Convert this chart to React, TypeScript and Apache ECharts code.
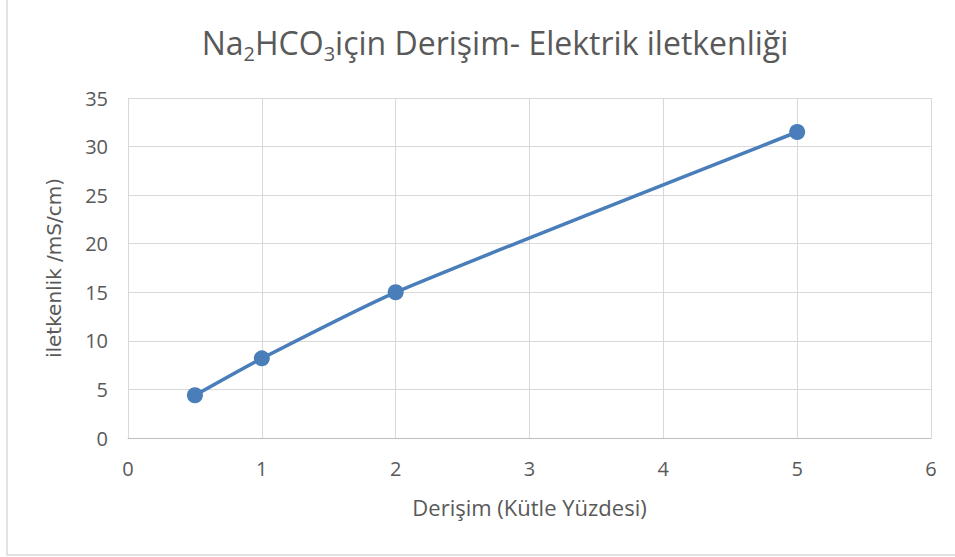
import React, { useEffect, useRef } from "react";
import * as echarts from "echarts";

// Concentration (mass %) vs. electrical conductivity (mS/cm)
const concentration = [0.5, 1, 2, 5];
const conductivity = [4.4, 8.2, 15.0, 31.5];
const xTicks = [0, 1, 2, 3, 4, 5, 6];
const yTicks = [0, 5, 10, 15, 20, 25, 30, 35];

const FONT = "'Open Sans', 'Noto Sans', sans-serif";
const TEXT = "#595959";
const BLUE = "#4a7ebb";

export default function App() {
  const ref = useRef<HTMLDivElement>(null);

  useEffect(() => {
    if (!ref.current) return;
    const chart = echarts.init(ref.current, undefined, { renderer: "svg" });
    chart.setOption({
      animation: false,
      backgroundColor: "#ffffff",
      title: {
        text: "{a|Na}{s|2}{a|HCO}{s|3}{a|için Derişim- Elektrik iletkenliği}",
        left: 490,
        textAlign: "center",
        top: 16,
        textStyle: {
          fontWeight: "normal",
          rich: {
            a: { fontFamily: FONT, fontSize: 32, color: TEXT, lineHeight: 42 },
            s: {
              fontFamily: FONT,
              fontSize: 20,
              color: TEXT,
              lineHeight: 22,
              verticalAlign: "bottom",
            },
          },
        },
      },
      graphic: [
        {
          type: "rect",
          shape: { x: 7, y: -2, width: 960, height: 557 },
          style: { fill: "none", stroke: "#d9d9d9", lineWidth: 1.5 },
          silent: true,
        },
      ],
      grid: { left: 128, right: 24, top: 98, bottom: 119, containLabel: false },
      xAxis: {
        type: "value",
        min: xTicks[0],
        max: xTicks[xTicks.length - 1],
        interval: 1,
        name: "Derişim (Kütle Yüzdesi)",
        nameLocation: "middle",
        nameGap: 58,
        nameTextStyle: { fontFamily: FONT, fontSize: 22, color: TEXT },
        axisLine: { show: true, lineStyle: { color: "#bfbfbf", width: 1 } },
        axisTick: { show: false },
        axisLabel: {
          fontFamily: FONT,
          fontSize: 20,
          color: TEXT,
          margin: 20,
        },
        splitLine: { show: true, lineStyle: { color: "#d9d9d9", width: 1 } },
      },
      yAxis: {
        type: "value",
        min: yTicks[0],
        max: yTicks[yTicks.length - 1],
        interval: 5,
        name: "iletkenlik /mS/cm)",
        nameLocation: "middle",
        nameGap: 64,
        nameRotate: 90,
        nameTextStyle: {
          fontFamily: "'DejaVu Sans', sans-serif",
          fontSize: 20,
          color: TEXT,
        },
        axisLine: { show: false },
        axisTick: { show: false },
        axisLabel: {
          fontFamily: FONT,
          fontSize: 20,
          color: TEXT,
          margin: 20,
        },
        splitLine: { show: true, lineStyle: { color: "#d9d9d9", width: 1 } },
      },
      series: [
        {
          type: "line",
          data: concentration.map((c, i) => [c, conductivity[i]]),
          smooth: 0.2,
          symbol: "circle",
          symbolSize: 16,
          lineStyle: { color: BLUE, width: 3.5 },
          itemStyle: { color: BLUE },
        },
      ],
    });
    return () => chart.dispose();
  }, []);

  return (
    <div style={{ position: "fixed", left: 0, top: 0, width: 955, height: 557 }}>
      <div ref={ref} style={{ width: 955, height: 557 }} />
    </div>
  );
}
